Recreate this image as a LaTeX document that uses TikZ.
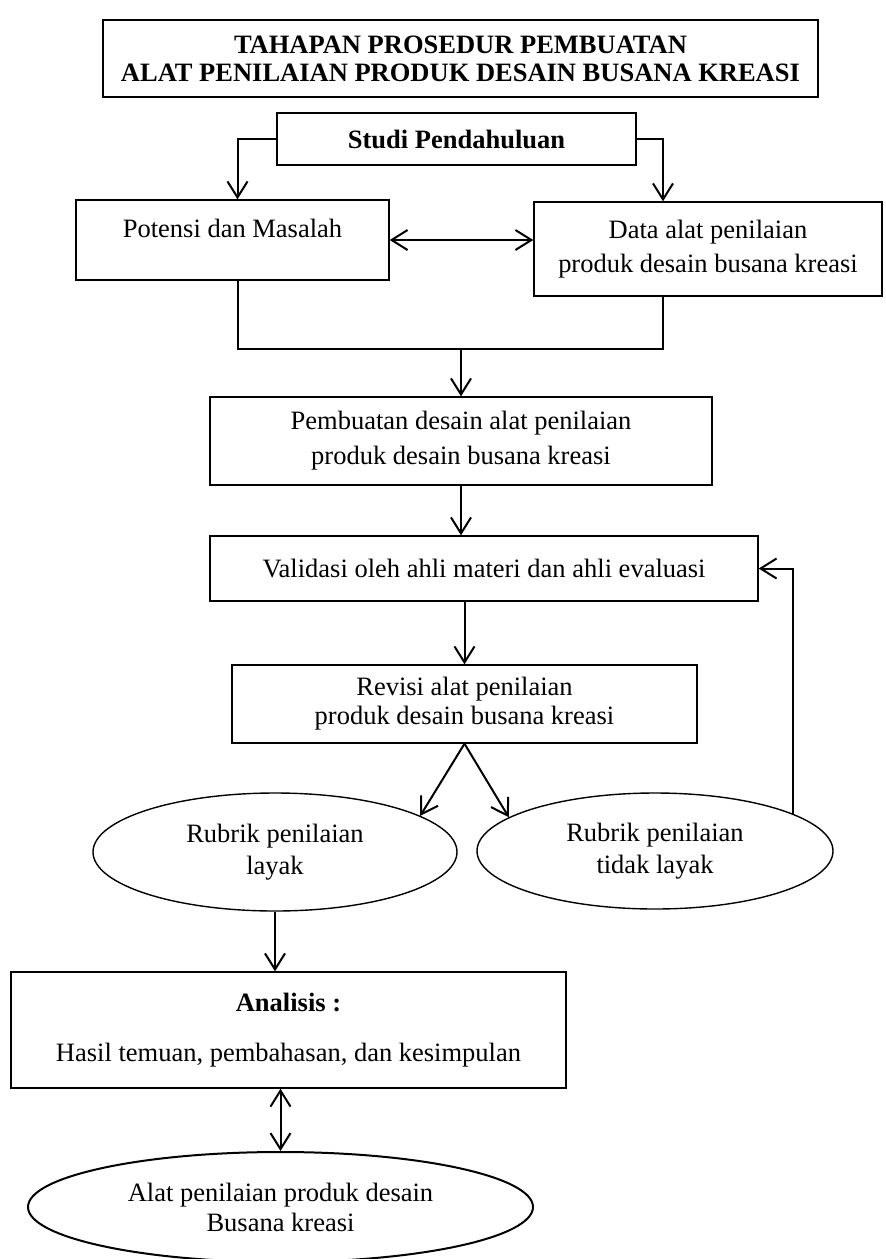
\documentclass[tikz,border=0pt]{standalone}
\usepackage{fontspec}
\setmainfont{Liberation Serif}
\usetikzlibrary{arrows.meta,shapes.geometric}
\tikzset{
  box/.style={draw, line width=0.7pt, rectangle, inner sep=0pt, align=center},
  oval/.style={draw, line width=0.7pt, ellipse, inner sep=0pt, align=center},
  >={Straight Barb[length=8pt,width=10pt]}
}
\begin{document}
\begin{tikzpicture}[x=0.5pt,y=-0.5pt,
    font=\fontsize{13.25}{16}\selectfont]
  \useasboundingbox (0,0) rectangle (885,1259);
  \node[box, minimum width=357.5pt, minimum height=38.5pt,
    font=\fontsize{13.25}{14}\selectfont\bfseries] (judul) at (460.5,58.5)
    {TAHAPAN PROSEDUR PEMBUATAN\\ALAT PENILAIAN PRODUK DESAIN BUSANA KREASI};
  \node[box, minimum width=179.5pt, minimum height=26pt, font=\fontsize{13.25}{16}\selectfont\bfseries]
    (studi) at (456.5,139) {Studi Pendahuluan};
  \node[box, minimum width=156.5pt, minimum height=40pt, text depth=12pt]
    (potensi) at (232.5,240) {Potensi dan Masalah};
  \node[box, minimum width=174pt, minimum height=47pt, font=\fontsize{13.25}{17}\selectfont]
    (data) at (708,249) {Data alat penilaian\\produk desain busana kreasi};
  \node[box, minimum width=251pt, minimum height=44pt, font=\fontsize{13.25}{17.5}\selectfont]
    (pembuatan) at (461,441) {Pembuatan desain alat penilaian\\produk desain busana kreasi};
  \node[box, minimum width=274pt, minimum height=32.5pt]
    (validasi) at (484,568.5) {Validasi oleh ahli materi dan ahli evaluasi};
  \node[box, minimum width=232.5pt, minimum height=39pt, font=\fontsize{13.25}{14.5}\selectfont]
    (revisi) at (464.5,704) {Revisi alat penilaian\\produk desain busana kreasi};
  \node[oval, minimum width=182pt, minimum height=59pt]
    (layak) at (275,852) {Rubrik penilaian\\layak};
  \node[oval, minimum width=178pt, minimum height=58pt]
    (tidak) at (655,851) {Rubrik penilaian\\tidak layak};
  \node[box, minimum width=277.5pt, minimum height=58pt]
    (analisis) at (288.5,1030) {\textbf{Analisis :}\\[9pt]Hasil temuan, pembahasan, dan kesimpulan};
  \node[oval, line width=1pt, minimum width=252.5pt, minimum height=55pt, font=\fontsize{13.25}{15}\selectfont]
    (hasil) at (280.5,1207) {Alat penilaian produk desain\\Busana kreasi};
  \coordinate (gabung) at (pembuatan.north |- 0,349);
  \begin{scope}[line width=1pt]
    \draw[->] (studi.west) -| ([xshift=2.5pt]potensi.north);
    \draw[->] (studi.east) -| ([xshift=-22.5pt]data.north);
    \draw[<->] (potensi.east) -- (potensi.east -| data.west);
    \draw ([xshift=2.5pt]potensi.south) |- (gabung) -| ([xshift=-22.5pt]data.south);
    \draw[->] (gabung) -- (pembuatan.north);
    \draw[->] (pembuatan.south) -- (pembuatan.south |- validasi.north);
    \draw[->] (revisi.north |- validasi.south) -- (revisi.north);
    \draw[->] (revisi.south) -- (layak.14);
    \draw[->] (revisi.south) -- (tidak.167);
    \draw[->] (tidak.15) |- (validasi.east);
    \draw[->] (layak.south) -- (layak.south |- analisis.north);
    \draw[<->] (hasil.north |- analisis.south) -- (hasil.north);
  \end{scope}
\end{tikzpicture}
\end{document}
